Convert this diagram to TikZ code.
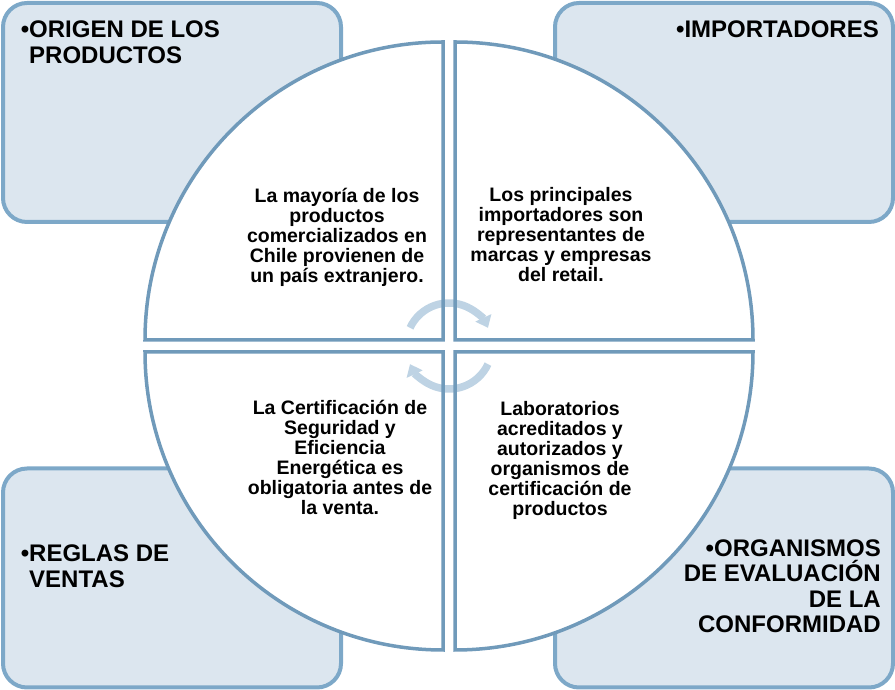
\documentclass[tikz,border=0pt]{standalone}
\usepackage{fontspec}
\setmainfont{Liberation Sans}
\usetikzlibrary{arrows.meta}
\definecolor{boxfill}{RGB}{220,230,239}
\definecolor{boxline}{RGB}{125,168,200}
\definecolor{quadline}{RGB}{112,154,186}
\definecolor{arrowcol}{RGB}{190,211,228}
\begin{document}
\begin{tikzpicture}[x=1pt,y=1pt,
  cornerbox/.style={draw=boxline, line width=4pt, fill=boxfill, rounded corners=24pt, minimum width=338pt, minimum height=219pt, inner sep=0pt},
  quadfill/.style={fill=white},
  quadline/.style={draw=quadline, line width=3.5pt},
  quadtext/.style={font=\fontsize{19.5}{20}\selectfont\bfseries, align=center, inner sep=0pt},
  cornertext/.style={font=\fontsize{24}{25.5}\selectfont\bfseries, inner sep=0pt},
  cyclearrow/.style={draw=arrowcol, line width=7.5pt, -{Triangle[width=17pt,length=11pt]}}
]
\useasboundingbox (0,0) rectangle (895,690);
% corner boxes
\node[cornerbox] (boxTL) at (172,577.5) {};
\node[cornerbox] (boxTR) at (724,577.5) {};
\node[cornerbox] (boxBL) at (172,112) {};
\node[cornerbox] (boxBR) at (724,112) {};
% corner labels
\node[cornertext, anchor=north west, align=left] (labTL) at (29,669) {\makebox[0pt][r]{•}ORIGEN DE LOS\\PRODUCTOS};
\node[cornertext, anchor=north east, align=right] (labTR) at (879,669) {•IMPORTADORES};
\node[cornertext, anchor=north west, align=left] (labBL) at (29,145) {\makebox[0pt][r]{•}REGLAS DE\\VENTAS};
\node[cornertext, anchor=north east, align=right] (labBR) at (881,150.5) {•ORGANISMOS\\DE EVALUACIÓN\\DE LA\\CONFORMIDAD};
% quadrant fills
\def\qTL{(443,350) -- (145,350) arc[start angle=180,end angle=90,radius=298] -- cycle}
\def\qTR{(455,350) -- (455,648) arc[start angle=90,end angle=0,radius=298] -- cycle}
\def\qBR{(455,338) -- (753,338) arc[start angle=0,end angle=-90,radius=298] -- cycle}
\def\qBL{(443,338) -- (443,40) arc[start angle=270,end angle=180,radius=298] -- cycle}
\path[quadfill] \qTL;
\path[quadfill] \qTR;
\path[quadfill] \qBR;
\path[quadfill] \qBL;
% cycle arrows
\coordinate (ctr) at (449,344);
\draw[cyclearrow] ([shift={(155:43)}]ctr) arc[start angle=155,end angle=25,radius=43];
\draw[cyclearrow] ([shift={(-25:43)}]ctr) arc[start angle=-25,end angle=-155,radius=43];
% quadrant outlines
\path[quadline] \qTL;
\path[quadline] \qTR;
\path[quadline] \qBR;
\path[quadline] \qBL;
% quadrant texts
\node[quadtext] (txtTL) at (337,453) {La mayoría de los\\productos\\comercializados en\\Chile provienen de\\un país extranjero.};
\node[quadtext] (txtTR) at (561,455) {Los principales\\importadores son\\representantes de\\marcas y empresas\\del retail.};
\node[quadtext] (txtBL) at (340,232.5) {La Certificación de\\Seguridad y\\Eficiencia\\Energética es\\obligatoria antes de\\la venta.};
\node[quadtext] (txtBR) at (560,230) {Laboratorios\\acreditados y\\autorizados y\\organismos de\\certificación de\\productos};
\end{tikzpicture}
\end{document}
